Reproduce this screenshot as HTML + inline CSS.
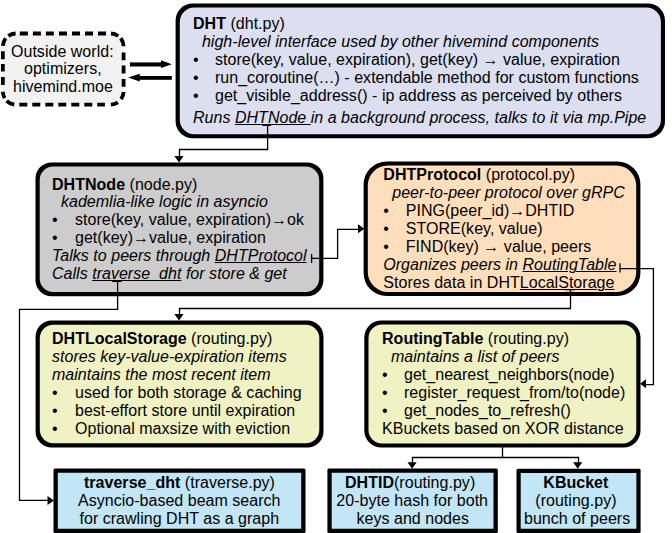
<!DOCTYPE html>
<html><head><meta charset="utf-8"><style>
html,body{margin:0;padding:0}
body{width:672px;height:533px;background:#fff;position:relative;overflow:hidden;font-family:"Liberation Sans",sans-serif;font-size:16px;color:#000}
svg{position:absolute;left:0;top:0}
.t{position:absolute;white-space:pre;line-height:18px;letter-spacing:0.025px}
.i{font-style:italic}
b{font-weight:bold}
u{text-decoration:underline;text-decoration-thickness:1px;text-underline-offset:1px}
</style></head><body>
<svg width="672" height="533" viewBox="0 0 672 533">
<g fill="#000">
<rect x="175.6" y="3.4" width="489.4" height="134.9" rx="17.0"/>
<rect x="179.80" y="7.50" width="481.10" height="126.70" rx="14.5" fill="#dcdff0"/>
<rect x="35.5" y="162.4" width="287.9" height="133.8" rx="16.0"/>
<rect x="39.70" y="166.60" width="279.50" height="125.40" rx="13.5" fill="#cccccc"/>
<rect x="363.6" y="161.4" width="276.8" height="134.7" rx="23.0"/>
<rect x="367.80" y="165.60" width="268.40" height="126.30" rx="20.0" fill="#ffdfbb"/>
<rect x="35.6" y="320.5" width="287.9" height="126.9" rx="16.0"/>
<rect x="39.80" y="324.70" width="279.50" height="118.50" rx="13.5" fill="#f1f2c3"/>
<rect x="364.3" y="320.4" width="276.2" height="127.2" rx="17.0"/>
<rect x="368.50" y="324.60" width="267.80" height="118.80" rx="13.5" fill="#f1f2c3"/>
<rect x="53.5" y="468.5" width="252.0" height="64.5" rx="1.5"/>
<rect x="57.80" y="472.80" width="243.40" height="55.90" rx="0.5" fill="#c2e6f5"/>
<rect x="327.4" y="468.5" width="170.4" height="64.5" rx="1.5"/>
<rect x="331.70" y="472.80" width="161.80" height="55.90" rx="0.5" fill="#c2e6f5"/>
<rect x="516.5" y="468.8" width="124.1" height="64.2" rx="1.5"/>
<rect x="520.70" y="473.00" width="115.70" height="55.80" rx="0.5" fill="#c2e6f5"/>
</g>
<rect x="2.85" y="33.5" width="120.75" height="71.1" rx="13" fill="#f2f2f2"/>
<path d="M19.8 33.5H27.9M32.9 33.5H40.9M45.9 33.5H53.8M59.0 33.5H67.0M72.0 33.5H80.0M85.0 33.5H93.0M98.0 33.5H106.0M19.3 104.6H27.3M32.3 104.6H40.3M45.3 104.6H53.3M58.3 104.6H66.3M71.3 104.6H79.3M84.3 104.6H92.3M97.2 104.6H104.9M2.85 51.2V59.3M2.85 64.0V71.6M2.85 77.0V85.0M123.60 52.4V60.3M123.60 65.5V73.5M123.60 79.0V86.7M15.62 33.50A13 13 0 0 0 8.30 35.92M5.66 38.43A13 13 0 0 0 2.87 45.82M111.05 33.51A13 13 0 0 1 118.24 35.98M120.70 38.32A13 13 0 0 1 123.60 46.27M123.59 92.05A13 13 0 0 1 121.12 99.24M117.87 102.38A13 13 0 0 1 110.83 104.60M2.85 91.83A13 13 0 0 0 4.59 98.10M6.66 100.79A13 13 0 0 0 14.27 104.50" stroke="#000" stroke-width="3.8" fill="none"/>
<g stroke="#000" stroke-width="1.3" fill="none">
<polyline points="267.6,125 267.6,149.5 179.5,149.5 179.5,157"/>
<polyline points="312,258.4 337.6,258.4 337.6,229.3 359,229.3"/>
<polyline points="117.6,281.5 117.6,309.3 19.5,309.3 19.5,500.4 48,500.4"/>
<polyline points="570.5,290 570.5,308.5 179.5,308.5 179.5,315"/>
<polyline points="620,268.7 653.4,268.7 653.4,384.6 645,384.6"/>
<polyline points="502.5,447 502.5,457.5 412.5,457.5 412.5,463"/>
<polyline points="502.5,457.5 578.5,457.5 578.5,463"/>
<line x1="311.6" y1="253.9" x2="311.6" y2="263.1"/>
<line x1="620" y1="263.3" x2="620" y2="272.6"/>
<line x1="262.2" y1="125.3" x2="271.1" y2="125.3"/>
<line x1="112.2" y1="281.4" x2="121.5" y2="281.4"/>
<line x1="565.2" y1="290.6" x2="574.9" y2="290.6" stroke-opacity="0.3"/>
</g>
<g fill="#000">
<polygon points="174.4,156 183.6,156 179,162.6"/>
<polygon points="174.4,314 183.6,314 179,320.6"/>
<polygon points="358,224.3 358,233.3 364.4,228.8"/>
<polygon points="646,379.3 646,388.3 640,383.8"/>
<polygon points="47.5,495.9 47.5,504.9 54,500.4"/>
<polygon points="407.5,462.2 416.7,462.2 412.1,468.8"/>
<polygon points="573.1,462.2 582.3,462.2 577.7,468.8"/>
<rect x="129.9" y="62.4" width="31.5" height="4.1"/>
<polygon points="161,60.2 171.8,64.2 161,68.1"/>
<rect x="139.4" y="76" width="32.4" height="3.8"/>
<polygon points="139.8,73.8 128.1,77.6 139.8,81.5"/>
</g>
</svg>

<!-- Outside world -->
<div class="t" style="left:11px;top:43px">Outside world:</div>
<div class="t" style="left:24px;top:60px">optimizers,</div>
<div class="t" style="left:13px;top:78px">hivemind.moe</div>

<!-- DHT -->
<div class="t" style="left:193px;top:15px"><b>DHT</b> (dht.py)</div>
<div class="t i" style="left:193px;top:33px">  high-level interface used by other hivemind components</div>
<div class="t" style="left:193px;top:51px">•</div><div class="t" style="left:215px;top:51px">store(key, value, expiration), get(key) → value, expiration</div>
<div class="t" style="left:193px;top:69px">•</div><div class="t" style="left:215px;top:69px">run_coroutine(…) - extendable method for custom functions</div>
<div class="t" style="left:193px;top:87px">•</div><div class="t" style="left:215px;top:87px">get_visible_address() - ip address as perceived by others</div>
<div class="t i" style="left:193px;top:109px">Runs <u>DHTNode </u>in a background process, talks to it via mp.Pipe</div>

<!-- DHTNode -->
<div class="t" style="left:52px;top:176px"><b>DHTNode</b> (node.py)</div>
<div class="t i" style="left:52px;top:193px">  kademlia-like logic in asyncio</div>
<div class="t" style="left:52px;top:211px">•</div><div class="t" style="left:75px;top:211px">store(key, value, expiration)→ok</div>
<div class="t" style="left:52px;top:229px">•</div><div class="t" style="left:75px;top:229px">get(key)→value, expiration</div>
<div class="t i" style="left:52px;top:247px">Talks to peers through <u>DHTProtocol</u></div>
<div class="t i" style="left:52px;top:265px">Calls <u>traverse_dht</u> for store &amp; get</div>

<!-- DHTProtocol -->
<div class="t" style="left:383.3px;top:166px"><b>DHTProtocol</b> (protocol.py)</div>
<div class="t i" style="left:383.3px;top:184px">  peer-to-peer protocol over gRPC</div>
<div class="t" style="left:383.3px;top:202px">•</div><div class="t" style="left:405.8px;top:202px">PING(peer_id)→DHTID</div>
<div class="t" style="left:383.3px;top:220px">•</div><div class="t" style="left:405.8px;top:220px">STORE(key, value)</div>
<div class="t" style="left:383.3px;top:238px">•</div><div class="t" style="left:405.8px;top:238px">FIND(key) → value, peers</div>
<div class="t i" style="left:383.3px;top:256px">Organizes peers in <u>RoutingTable</u></div>
<div class="t" style="left:383.3px;top:274px">Stores data in DHT<u>LocalStorage</u></div>

<!-- DHTLocalStorage -->
<div class="t" style="left:52px;top:330px"><b>DHTLocalStorage</b> (routing.py)</div>
<div class="t i" style="left:52px;top:348px">stores key-value-expiration items</div>
<div class="t i" style="left:52px;top:366px">maintains the most recent item</div>
<div class="t" style="left:52px;top:384px">•</div><div class="t" style="left:75px;top:384px">used for both storage &amp; caching</div>
<div class="t" style="left:52px;top:402px">•</div><div class="t" style="left:75px;top:402px">best-effort store until expiration</div>
<div class="t" style="left:52px;top:420px">•</div><div class="t" style="left:75px;top:420px">Optional maxsize with eviction</div>

<!-- RoutingTable -->
<div class="t" style="left:382px;top:330px"><b>RoutingTable</b> (routing.py)</div>
<div class="t i" style="left:382px;top:348px">  maintains a list of peers</div>
<div class="t" style="left:382px;top:366px">•</div><div class="t" style="left:404px;top:366px">get_nearest_neighbors(node)</div>
<div class="t" style="left:382px;top:384px">•</div><div class="t" style="left:404px;top:384px">register_request_from/to(node)</div>
<div class="t" style="left:382px;top:402px">•</div><div class="t" style="left:404px;top:402px">get_nodes_to_refresh()</div>
<div class="t" style="left:382px;top:420px">KBuckets based on XOR distance</div>

<!-- bottom boxes -->
<div class="t" style="left:84px;top:474px"><b>traverse_dht</b> (traverse.py)</div>
<div class="t" style="left:78px;top:492px">Asyncio-based beam search</div>
<div class="t" style="left:79.5px;top:510px">for crawling DHT as a graph</div>

<div class="t" style="left:345px;top:474px"><b>DHTID</b>(routing.py)</div>
<div class="t" style="left:336.3px;top:492px">20-byte hash for both</div>
<div class="t" style="left:356.5px;top:510px">keys and nodes</div>

<div class="t" style="left:543.3px;top:474px"><b>KBucket</b></div>
<div class="t" style="left:535.3px;top:492px">(routing.py)</div>
<div class="t" style="left:524px;top:510px">bunch of peers</div>
</body></html>
